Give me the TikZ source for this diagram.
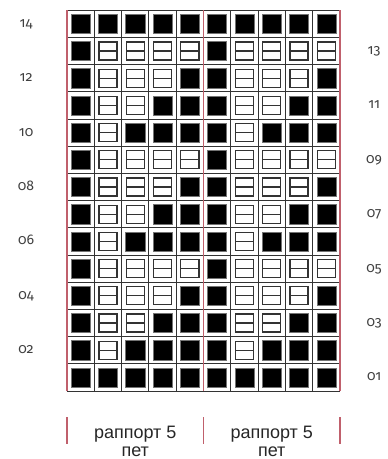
\documentclass[tikz,border=0pt]{standalone}
\usepackage{fontspec}
\setmainfont{Liberation Sans}
\newfontfamily\numfont[Numbers=OldStyle]{Fira Sans}
\usetikzlibrary{calc}
\definecolor{rapred}{RGB}{192,96,108}
\tikzset{
  gridline/.style={
    draw=black!80,
    line width=0.8pt
  },
  rapline/.style={
    draw=rapred,
    line width=1.4pt
  },
  fullcell/.style={
    fill=black,
    draw=black!55,
    line width=0.4pt
  },
  emptycell/.style={
    draw=black!80,
    line width=1.3pt
  },
  midline/.style={
    draw=black!80,
    line width=1.1pt
  },
  rowlabel/.style={
    font=\numfont\fontsize{14}{15}\selectfont,
    text=black!75,
    inner sep=0pt,
    anchor=base
  },
  raptext/.style={
    font=\fontsize{18}{20}\selectfont,
    text=black!85,
    inner sep=0pt,
    anchor=base
  }
}

\begin{document}
\begin{tikzpicture}[x=27.3pt, y=27.2pt]
    \useasboundingbox (-2.454,-2.5) rectangle (11.758,14.375);
    % cells: \n = number of hollow cells after the edge cell
    \foreach \r/\n in {1/0,2/1,3/2,4/3,5/4,6/1,7/2,8/3,9/4,10/1,11/2,12/3,13/4,14/0}{
      \foreach \c in {1,...,10}{
        \pgfmathtruncatemacro\k{mod(\c-1,5)}
        \pgfmathtruncatemacro\h{and(\k>0,\k<\n+1)}
        \ifnum\h=1
          \draw[emptycell] (\c-0.83,\r-0.83) rectangle (\c-0.17,\r-0.17);
          \draw[midline] (\c-0.83,\r-0.5) -- (\c-0.17,\r-0.5);
        \else
          \filldraw[fullcell] (\c-0.85,\r-0.85) rectangle (\c-0.15,\r-0.15);
        \fi
      }
    }
    \draw[gridline, step=1] (0,0) grid (10,14);
    \foreach \x in {0,5,10}{
      \draw[rapline] (\x,0) -- (\x,14);
      \draw[rapline] (\x,-0.956) -- (\x,-1.949);
    }
    % row numbers
    \foreach \r in {2,4,...,14}
      \node[rowlabel] (row\r) at (-1.5,\r-0.63) {\ifnum\r<10 0\fi\r};
    \foreach \r in {1,3,...,13}
      \node[rowlabel] (row\r) at (11.25,\r-0.63) {\ifnum\r<10 0\fi\r};
    % repeats
    \node[raptext] (rapA) at (2.5,-1.74) {раппорт 5};
    \node[raptext] (petA) at (2.5,-2.40) {пет};
    \node[raptext] (rapB) at (7.5,-1.74) {раппорт 5};
    \node[raptext] (petB) at (7.5,-2.40) {пет};
\end{tikzpicture}
\end{document}
